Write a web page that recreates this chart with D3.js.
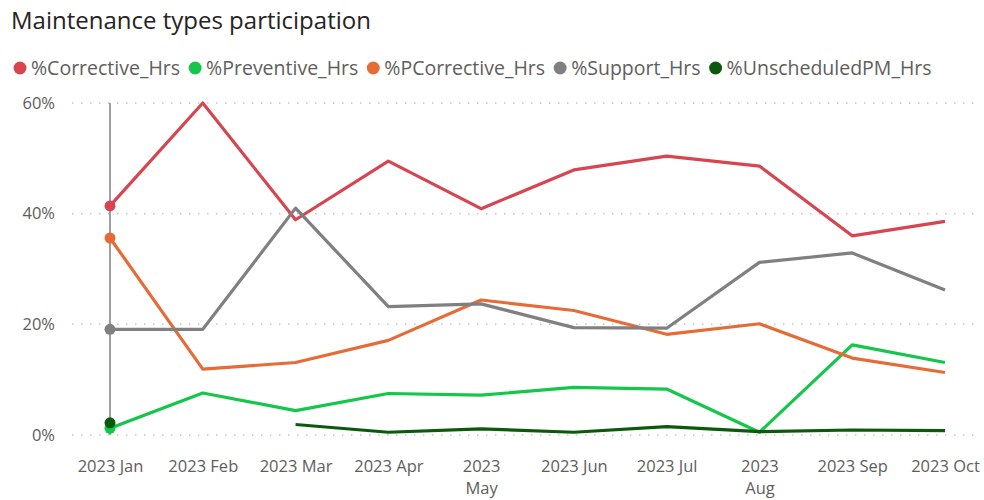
<!DOCTYPE html>
<html lang="en">
<head>
<meta charset="UTF-8">
<title>Maintenance types participation</title>
<script src="https://d3js.org/d3.v7.min.js"></script>
<style>
  body { margin: 0; background: #fff; }
  .title { font-family: "Open Sans", "Noto Sans", sans-serif; font-size: 24px; font-weight: 500; fill: #252423; }
  .legend text { font-family: "Open Sans", "Noto Sans", sans-serif; font-size: 19.5px; fill: #605E5C; }
  .axis text { font-family: "Open Sans", "Noto Sans", sans-serif; font-size: 16.5px; fill: #605E5C; }
  .grid line { stroke: #C8C6C4; stroke-width: 1.5px; stroke-dasharray: 1.5,7.5; }
  .series { fill: none; stroke-width: 3.2px; stroke-linejoin: round; }
</style>
</head>
<body>
<svg id="chart" width="984" height="500"></svg>
<script>
  const months = ["2023 Jan", "2023 Feb", "2023 Mar", "2023 Apr", "2023 May",
                  "2023 Jun", "2023 Jul", "2023 Aug", "2023 Sep", "2023 Oct"];
  const wrappedMonths = ["2023 May", "2023 Aug"];

  const seriesNames = ["%Corrective_Hrs", "%Preventive_Hrs", "%PCorrective_Hrs",
                       "%Support_Hrs", "%UnscheduledPM_Hrs"];
  const seriesColors = ["#D64550", "#14C64A", "#E66C37", "#808080", "#0B5A0B"];

  const corrective   = [41.4, 60.0, 38.9, 49.5, 40.9, 47.9, 50.4, 48.6, 36.0, 38.6];
  const preventive   = [1.2, 7.6, 4.4, 7.5, 7.2, 8.6, 8.3, 0.5, 16.3, 13.1];
  const pCorrective  = [35.6, 11.9, 13.1, 17.1, 24.4, 22.5, 18.2, 20.1, 13.9, 11.3];
  const support      = [19.1, 19.1, 41.0, 23.2, 23.7, 19.4, 19.3, 31.2, 32.9, 26.2];
  const unscheduled  = [2.2, null, 1.9, 0.5, 1.1, 0.5, 1.5, 0.6, 0.9, 0.8];

  const seriesValues = [corrective, preventive, pCorrective, support, unscheduled];
  const yTicks = [0, 20, 40, 60];
  const hoverMonth = "2023 Jan";

  const width = 984, height = 500;
  const margin = { top: 103, right: 4, bottom: 65, left: 72 };
  const svg = d3.select("#chart");

  svg.append("text").attr("class", "title")
     .attr("x", 11).attr("y", 29)
     .text("Maintenance types participation");

  // legend
  const legend = svg.append("g").attr("class", "legend");
  let lx = 20;
  seriesNames.forEach((name, i) => {
    const item = legend.append("g").attr("transform", `translate(${lx},68)`);
    item.append("circle").attr("r", 6.5).attr("fill", seriesColors[i]);
    const t = item.append("text").attr("x", 11).attr("y", 7).text(name);
    lx += 11 + t.node().getComputedTextLength() + 15;
  });

  const x = d3.scalePoint()
    .domain(months)
    .range([110, 945]);

  const y = d3.scaleLinear()
    .domain([0, 60])
    .range([height - margin.bottom, margin.top]);

  // gridlines
  svg.append("g").attr("class", "grid")
    .selectAll("line").data(yTicks).join("line")
    .attr("x1", margin.left).attr("x2", width - margin.right)
    .attr("y1", d => y(d)).attr("y2", d => y(d));

  // y axis labels
  const yAxis = svg.append("g").attr("class", "axis")
    .attr("transform", `translate(${margin.left - 17},0)`)
    .call(d3.axisLeft(y).tickValues(yTicks).tickFormat(d => d + "%").tickSize(0));
  yAxis.select(".domain").remove();
  yAxis.selectAll("text").attr("x", 0);

  // x axis labels (baseline at 472, wrapped second line at 494)
  const xAxis = svg.append("g").attr("class", "axis")
    .attr("transform", "translate(0,472)")
    .call(d3.axisBottom(x).tickSize(0));
  xAxis.select(".domain").remove();
  xAxis.selectAll(".tick text").attr("y", 0).attr("dy", 0).each(function(d) {
    if (wrappedMonths.includes(d)) {
      const el = d3.select(this).text(null);
      d.split(" ").forEach((w, i) => {
        el.append("tspan").attr("x", 0).attr("dy", i === 0 ? 0 : 22).text(w);
      });
    }
  });

  // hover line
  svg.append("line")
    .attr("x1", x(hoverMonth)).attr("x2", x(hoverMonth))
    .attr("y1", y(60)).attr("y2", y(0))
    .attr("stroke", "#9E9E9E").attr("stroke-width", 2);

  const line = d3.line()
    .defined(d => d != null)
    .x((d, i) => x(months[i]))
    .y(d => y(d));

  seriesValues.forEach((vals, i) => {
    svg.append("path").attr("class", "series")
      .attr("stroke", seriesColors[i])
      .attr("d", line(vals));
  });

  // hover markers
  const hi = months.indexOf(hoverMonth);
  seriesValues.forEach((vals, i) => {
    if (vals[hi] == null) return;
    svg.append("circle")
      .attr("cx", x(hoverMonth)).attr("cy", y(vals[hi]))
      .attr("r", 5.5).attr("fill", seriesColors[i]);
  });
</script>
</body>
</html>
